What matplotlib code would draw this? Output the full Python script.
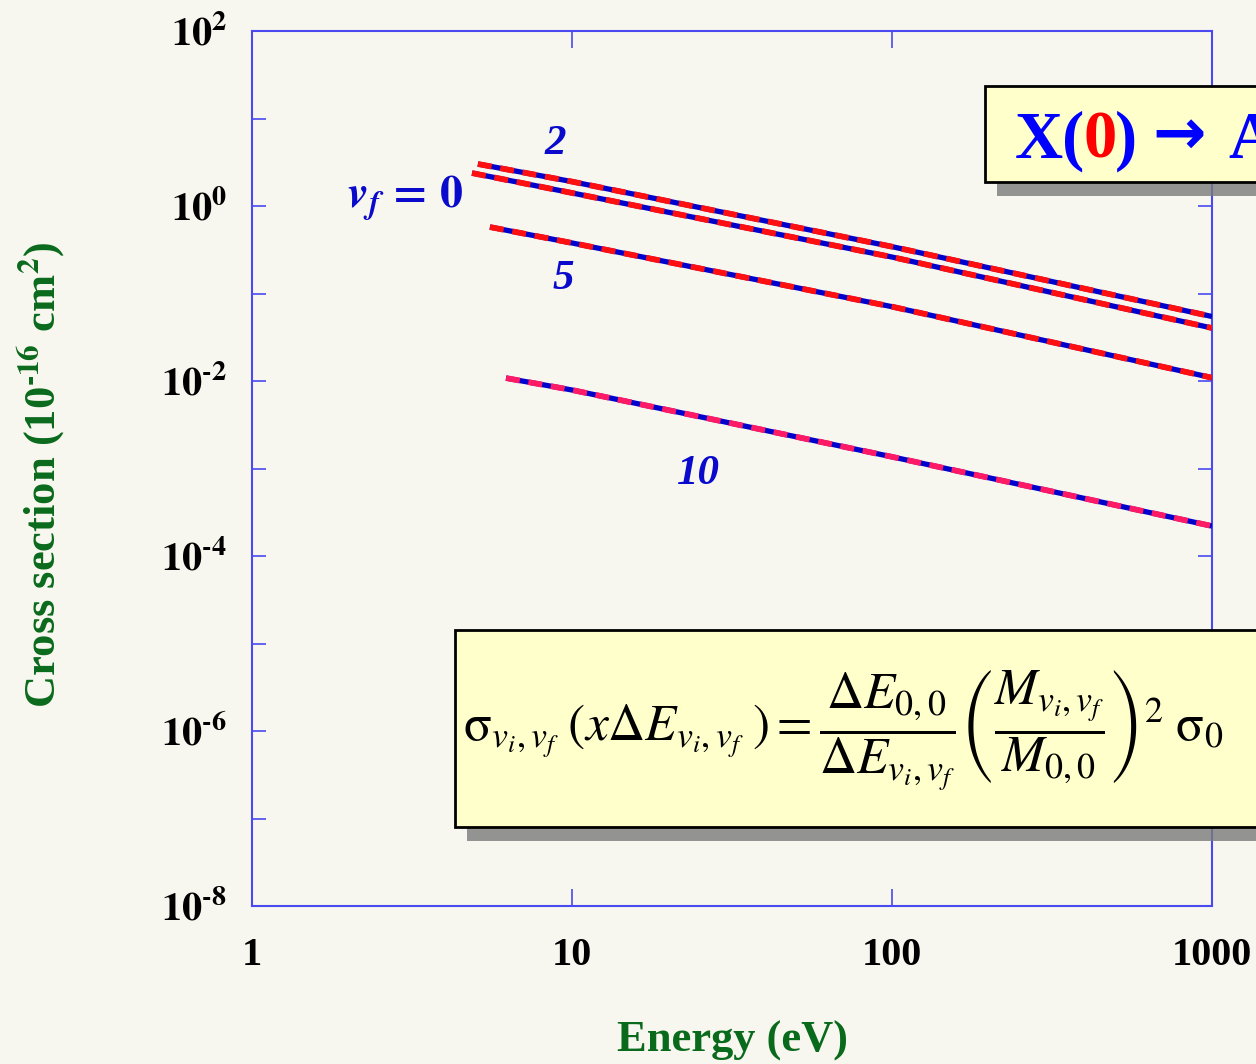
import numpy as np
import matplotlib
matplotlib.use("Agg")
import matplotlib.pyplot as plt
from matplotlib.patches import Rectangle
from matplotlib.ticker import FixedLocator, FixedFormatter, NullLocator

plt.rcParams['font.family'] = ['Liberation Serif', 'DejaVu Serif']
plt.rcParams['mathtext.fontset'] = 'stix'

# values (energy in eV, cross section in 1e-16 cm^2)
energy_0 = [4.87, 10, 100, 1000]
sigma_0 = [2.38, 1.41, 0.261, 0.0403]
energy_2 = [5.08, 10, 100, 1000]
sigma_2 = [3.02, 1.90, 0.343, 0.0546]
energy_5 = [5.54, 10, 100, 1000]
sigma_5 = [0.575, 0.378, 0.0707, 0.0109]
energy_10 = [6.22, 10, 100, 1000]
sigma_10 = [0.0108, 0.00789, 0.00136, 0.000220]

series = [(energy_0, sigma_0, '#ff1010'),
          (energy_2, sigma_2, '#ff1010'),
          (energy_5, sigma_5, '#ff1010'),
          (energy_10, sigma_10, '#ff1a66')]

x_ticks = [1, 10, 100, 1000]
x_labels = ['1', '10', '100', '1000']
y_exps = list(range(-8, 3))

HY = '\u2010'  # short hyphen used in the superscripts

W, H = 1256, 1064
bg = '#f8f7ef'
fig = plt.figure(figsize=(W / 100, H / 100), dpi=100, facecolor=bg)
ax = fig.add_axes([252 / W, 1 - 906 / H, (1212 - 252) / W, (906 - 31) / H])
ax.set_facecolor(bg)

for e, s, c in series:
    ax.plot(e, s, color='#0000cc', lw=3.8, solid_capstyle='butt', zorder=3)
    ax.plot(e, s, color=c, lw=4.2, dashes=(2.4, 1.5), dash_capstyle='butt', zorder=4)

ax.set_xscale('log')
ax.set_yscale('log')
ax.set_xlim(1, 1000)
ax.set_ylim(1e-8, 1e2)

frame = '#4a4af0'
for sp in ax.spines.values():
    sp.set_color(frame)
    sp.set_linewidth(1.5)


def ylab(k):
    if k % 2:
        return ''
    ks = str(k).replace('-', HY)
    return r'$\mathbf{10^{%s}}$' % ks


ax.xaxis.set_major_locator(FixedLocator(x_ticks))
ax.xaxis.set_major_formatter(FixedFormatter(x_labels))
ax.xaxis.set_minor_locator(NullLocator())
ax.yaxis.set_major_locator(FixedLocator([10.0 ** k for k in y_exps]))
ax.yaxis.set_major_formatter(FixedFormatter([ylab(k) for k in y_exps]))
ax.yaxis.set_minor_locator(NullLocator())
ax.tick_params(axis='both', which='major', direction='in', top=True, right=True,
               color=frame, width=1.2, labelsize=29, labelcolor='black')
ax.tick_params(axis='x', length=12, pad=22)
ax.tick_params(axis='y', length=10, pad=18)
for lab in ax.get_xticklabels():
    lab.set_fontweight('bold')

green = '#0a6a1c'
ax.set_xlabel('Energy (eV)', fontsize=32, fontweight='bold', color=green, labelpad=34)
fig.text(42 / W, 1 - 475 / H,
         r'Cross section (10$^{\mathbf{%s16}}$ cm$^{\mathbf{2}}$)' % HY,
         rotation=90, ha='center', va='center', fontsize=32, fontweight='bold', color=green)

blue = '#0a0acc'
lab_kw = dict(color=blue, fontsize=31, fontweight='bold', fontstyle='italic',
              ha='center', va='center', transform=fig.transFigure)
fig.text(555 / W, 1 - 144 / H, '2', **lab_kw)
fig.text(563 / W, 1 - 279 / H, '5', **lab_kw)
fig.text(698 / W, 1 - 474 / H, '10', **lab_kw)
fig.text(405 / W, 1 - 198 / H, r'$\mathbfit{v}_{\mathbfit{f}}\,\mathbf{=\,0}$',
         color=blue, fontsize=33, ha='center', va='center')


def box(x0, y0, x1, y1):
    fig.patches.append(Rectangle(((x0 + 12) / W, 1 - (y1 + 14) / H), (x1 - x0) / W, (y1 - y0) / H,
                                 transform=fig.transFigure, facecolor='#7a7a7a',
                                 edgecolor='none', alpha=0.8, zorder=5))
    fig.patches.append(Rectangle((x0 / W, 1 - y1 / H), (x1 - x0) / W, (y1 - y0) / H,
                                 transform=fig.transFigure, facecolor='#ffffcc',
                                 edgecolor='black', lw=2, zorder=6))


box(985, 86, 1400, 182)
box(455, 630, 1400, 827)

tkw = dict(fontsize=48, fontweight='bold', va='baseline', zorder=7)
base = 1 - 158 / H
fig.text(1015 / W, base, 'X(', color='#0000ff', **tkw)
fig.text(1083 / W, base, '0', color='#ff0000', **tkw)
fig.text(1115 / W, base, ')', color='#0000ff', **tkw)
fig.text(1152 / W, 1 - 154 / H, '\u2192', color='#0000ff', family='DejaVu Sans',
         fontsize=46, fontweight='bold', va='baseline', zorder=7)
fig.text(1228 / W, base, 'A', color='#0000ff', **tkw)

formula = (r'$\mathrm{\sigma}_{v_i,v_f}\;(x\Delta E_{v_i,v_f}\;) = '
           r'\dfrac{\Delta E_{0,0}}{\Delta E_{v_i,v_f}}'
           r'\left(\dfrac{M_{v_i,v_f}}{M_{0,0}}\right)^2\;\mathrm{\sigma}_0$')
fig.text(463 / W, 1 - 730 / H, formula, fontsize=37, color='black',
         ha='left', va='center', zorder=7)

fig.savefig('out.png', dpi=100, facecolor=bg)
